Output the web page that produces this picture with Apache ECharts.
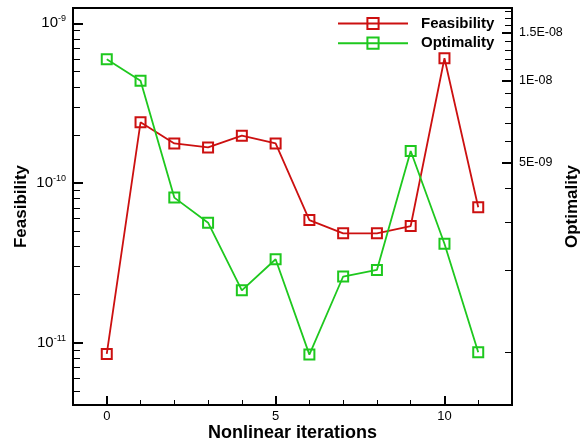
<!DOCTYPE html>
<html>
<head>
<meta charset="utf-8">
<script src="https://cdn.jsdelivr.net/npm/echarts@6/dist/echarts.min.js"></script>
<style>
  html, body { margin: 0; padding: 0; background: #fff; }
  #chart { width: 581px; height: 442px; }
</style>
</head>
<body>
<div id="chart"></div>
<script>
// Convergence history: feasibility (left log axis) and optimality (right log axis)
const iterations = [0, 1, 2, 3, 4, 5, 6, 7, 8, 9, 10, 11];
const feasibility = [8.5e-12, 2.40e-10, 1.77e-10, 1.67e-10, 1.98e-10, 1.77e-10,
                     5.86e-11, 4.84e-11, 4.84e-11, 5.38e-11, 6.04e-10, 7.05e-11];
const optimality = [1.20e-8, 1.0e-8, 3.71e-9, 3.0e-9, 1.69e-9, 2.20e-9,
                    9.8e-10, 1.90e-9, 2.01e-9, 5.51e-9, 2.51e-9, 1.0e-9];

// Tick values and labels
const feasTicks = [1e-11, 1e-10, 1e-9];
const optTicks = [5e-9, 1e-8, 1.5e-8];
const optTickLabels = ['5E-09', '1E-08', '1.5E-08'];
const xTicks = [0, 5, 10];
const xMinorTicks = [1, 2, 3, 4, 6, 7, 8, 9, 11];

// Axis ranges (log10 space)
const feasRange = [-11.39, -8.904];
const optRange = [-9.1945, -7.7322];
const xRange = [-1, 12];

const RED = '#cc1010';
const GREEN = '#1ec81e';
const FONT = 'Liberation Sans';

const lg = Math.log10;

// Minor ticks on the feasibility axis: 2..9 x 10^n
const feasMinor = [];
for (let n = -12; n <= -9; n++) {
  for (let k = 2; k <= 9; k++) {
    const v = lg(k * Math.pow(10, n));
    if (v > feasRange[0] && v < feasRange[1]) feasMinor.push(v);
  }
}
// Minor ticks on the optimality axis: every 1E-09
const optMinor = [];
for (let k = 1; k <= 19; k++) {
  if (k % 5 === 0) continue;
  const v = lg(k * 1e-9);
  if (v > optRange[0] && v < optRange[1]) optMinor.push(v);
}

const chart = echarts.init(document.getElementById('chart'), null, { renderer: 'canvas' });

function hiddenAxisBase() {
  return {
    axisLine: { show: false, onZero: false },
    axisLabel: { show: false },
    splitLine: { show: false }
  };
}

chart.setOption({
  animation: false,
  backgroundColor: '#fff',
  textStyle: { fontFamily: FONT },
  grid: {
    left: 73, top: 8, right: 69, bottom: 37,
    outerBoundsMode: 'none',
    containLabel: false,
    show: true, borderColor: '#000', borderWidth: 2, backgroundColor: 'transparent'
  },
  legend: {
    orient: 'vertical',
    left: 337, top: 16, padding: 0,
    itemWidth: 70, itemHeight: 14, itemGap: 4.7,
    textStyle: { fontFamily: FONT, fontWeight: 'bold', fontSize: 15, color: '#000', padding: [0, 0, 0, 8] },
    data: ['Feasibility', 'Optimality']
  },
  xAxis: [
    {
      type: 'value', min: xRange[0], max: xRange[1],
      name: 'Nonlinear iterations', nameLocation: 'middle', nameGap: 19, nameMoveOverlap: false,
      nameTextStyle: { fontFamily: FONT, fontWeight: 'bold', fontSize: 18, color: '#000' },
      axisLine: { show: true, onZero: false, lineStyle: { color: '#000', width: 2 } },
      axisTick: { show: true, inside: true, length: 9, customValues: xTicks, lineStyle: { color: '#000', width: 2 } },
      axisLabel: { customValues: xTicks, margin: 5, fontFamily: FONT, fontSize: 13, color: '#000' },
      splitLine: { show: false }
    },
    Object.assign(hiddenAxisBase(), {
      type: 'value', min: xRange[0], max: xRange[1], position: 'bottom',
      axisTick: { show: true, inside: true, length: 5, customValues: xMinorTicks, lineStyle: { color: '#000', width: 1 } },
      axisLabel: { show: false, customValues: xMinorTicks }
    })
  ],
  yAxis: [
    {
      type: 'value', min: feasRange[0], max: feasRange[1], position: 'left',
      name: 'Feasibility', nameLocation: 'middle', nameGap: 43, nameRotate: 90, nameMoveOverlap: false,
      nameTextStyle: { fontFamily: FONT, fontWeight: 'bold', fontSize: 17, color: '#000' },
      axisLine: { show: true, onZero: false, lineStyle: { color: '#000', width: 2 } },
      axisTick: { show: true, inside: true, length: 10, customValues: feasTicks.map(lg), lineStyle: { color: '#000', width: 2 } },
      axisLabel: {
        customValues: feasTicks.map(lg), margin: 7,
        formatter: v => '{b|10}{s|' + Math.round(v) + '}',
        rich: {
          b: { fontFamily: FONT, fontSize: 15, color: '#000', lineHeight: 18, verticalAlign: 'middle' },
          s: { fontFamily: FONT, fontSize: 9, color: '#000', lineHeight: 18, verticalAlign: 'top' }
        }
      },
      splitLine: { show: false }
    },
    {
      type: 'value', min: optRange[0], max: optRange[1], position: 'right',
      name: 'Optimality', nameLocation: 'middle', nameGap: 52, nameRotate: 90, nameMoveOverlap: false,
      nameTextStyle: { fontFamily: FONT, fontWeight: 'bold', fontSize: 17, color: '#000' },
      axisLine: { show: true, onZero: false, lineStyle: { color: '#000', width: 2 } },
      axisTick: { show: true, inside: true, length: 10, customValues: optTicks.map(lg), lineStyle: { color: '#000', width: 2 } },
      axisLabel: {
        customValues: optTicks.map(lg), margin: 7,
        fontFamily: FONT, fontSize: 12.5, color: '#000',
        formatter: v => {
          let best = 0;
          optTicks.forEach((t, i) => { if (Math.abs(lg(t) - v) < Math.abs(lg(optTicks[best]) - v)) best = i; });
          return optTickLabels[best];
        }
      },
      splitLine: { show: false }
    },
    Object.assign(hiddenAxisBase(), {
      type: 'value', min: feasRange[0], max: feasRange[1], position: 'left',
      axisTick: { show: true, inside: true, length: 7, customValues: feasMinor, lineStyle: { color: '#000', width: 1 } },
      axisLabel: { show: false, customValues: feasMinor }
    }),
    Object.assign(hiddenAxisBase(), {
      type: 'value', min: optRange[0], max: optRange[1], position: 'right',
      axisTick: { show: true, inside: true, length: 7, customValues: optMinor, lineStyle: { color: '#000', width: 1 } },
      axisLabel: { show: false, customValues: optMinor }
    })
  ],
  series: [
    {
      name: 'Feasibility', type: 'line', xAxisIndex: 0, yAxisIndex: 0,
      data: iterations.map((x, i) => [x, lg(feasibility[i])]),
      symbol: 'rect', symbolSize: 10,
      lineStyle: { color: RED, width: 1.8 },
      itemStyle: { color: 'rgba(255,255,255,0)', borderColor: RED, borderWidth: 2 }
    },
    {
      name: 'Optimality', type: 'line', xAxisIndex: 0, yAxisIndex: 1,
      data: iterations.map((x, i) => [x, lg(optimality[i])]),
      symbol: 'rect', symbolSize: 10,
      lineStyle: { color: GREEN, width: 1.8 },
      itemStyle: { color: 'rgba(255,255,255,0)', borderColor: GREEN, borderWidth: 2 }
    }
  ]
});
</script>
</body>
</html>
